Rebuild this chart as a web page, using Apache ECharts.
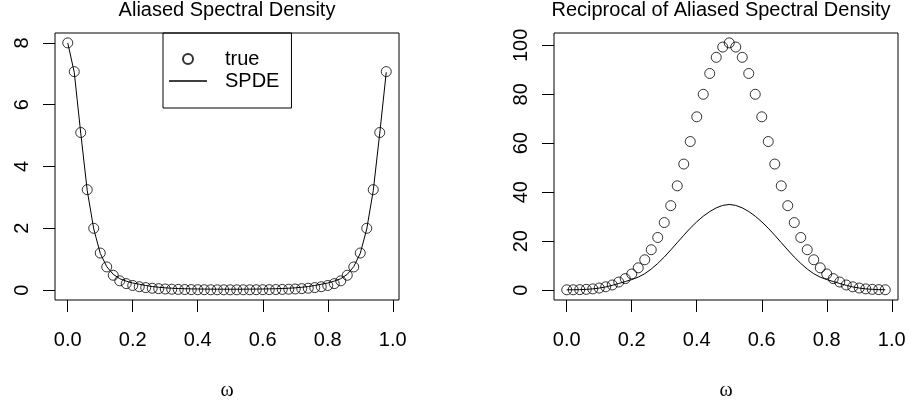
<!DOCTYPE html>
<html>
<head>
<meta charset="utf-8">
<script src="https://cdn.jsdelivr.net/npm/echarts@6/dist/echarts.min.js"></script>
<style>
  html, body { margin: 0; padding: 0; background: #fff; }
  #chart { width: 909px; height: 406px; }
</style>
</head>
<body>
<div id="chart"></div>
<script>
// frequencies on the lattice grid
const omega = [
  0.00, 0.02, 0.04, 0.06, 0.08, 0.10, 0.12, 0.14, 0.16, 0.18,
  0.20, 0.22, 0.24, 0.26, 0.28, 0.30, 0.32, 0.34, 0.36, 0.38,
  0.40, 0.42, 0.44, 0.46, 0.48, 0.50, 0.52, 0.54, 0.56, 0.58,
  0.60, 0.62, 0.64, 0.66, 0.68, 0.70, 0.72, 0.74, 0.76, 0.78,
  0.80, 0.82, 0.84, 0.86, 0.88, 0.90, 0.92, 0.94, 0.96, 0.98
]

// left panel: aliased spectral density
const trueDensity = [
  8.00, 7.07, 5.10, 3.25, 2.00, 1.20, 0.75, 0.48, 0.30, 0.21,
  0.15, 0.11, 0.081, 0.061, 0.047, 0.036, 0.029, 0.023, 0.019, 0.016,
  0.014, 0.0125, 0.0113, 0.0105, 0.0101, 0.0099, 0.0101, 0.0105, 0.0113, 0.0125,
  0.014, 0.016, 0.019, 0.023, 0.029, 0.036, 0.047, 0.061, 0.081, 0.11,
  0.15, 0.21, 0.30, 0.48, 0.75, 1.20, 2.00, 3.25, 5.10, 7.07
]
const spdeDensity = [
  8.00, 7.05, 5.08, 3.22, 1.98, 1.19, 0.76, 0.51, 0.37, 0.29,
  0.23, 0.19, 0.15, 0.116, 0.092, 0.074, 0.061, 0.052, 0.045, 0.040,
  0.036, 0.033, 0.031, 0.030, 0.029, 0.0286, 0.029, 0.030, 0.031, 0.033,
  0.036, 0.040, 0.045, 0.052, 0.061, 0.074, 0.092, 0.116, 0.15, 0.19,
  0.23, 0.29, 0.37, 0.51, 0.76, 1.19, 1.98, 3.22, 5.08, 7.05
]

// right panel: reciprocal of the aliased spectral density
const trueRecip = [
  0.125, 0.14, 0.20, 0.31, 0.50, 0.85, 1.35, 2.1, 3.3, 4.7,
  6.6, 9.1, 12.4, 16.5, 21.5, 27.6, 34.5, 42.6, 51.5, 60.7,
  70.8, 80.0, 88.5, 95.1, 99.3, 101.0, 99.3, 95.1, 88.5, 80.0,
  70.8, 60.7, 51.5, 42.6, 34.5, 27.6, 21.5, 16.5, 12.4, 9.1,
  6.6, 4.7, 3.3, 2.1, 1.35, 0.85, 0.50, 0.31, 0.20, 0.14
]
const spdeRecip = [
  0.125, 0.14, 0.20, 0.31, 0.50, 0.84, 1.3, 1.95, 2.7, 3.5,
  4.3, 5.3, 6.7, 8.6, 10.9, 13.5, 16.4, 19.4, 22.4, 25.3,
  27.9, 30.2, 32.1, 33.6, 34.6, 35.0, 34.6, 33.6, 32.1, 30.2,
  27.9, 25.3, 22.4, 19.4, 16.4, 13.5, 10.9, 8.6, 6.7, 5.3,
  4.3, 3.5, 2.7, 1.95, 1.3, 0.84, 0.50, 0.31, 0.20, 0.14
]

const xTicks = [0, 0.2, 0.4, 0.6, 0.8, 1.0]
const leftYTicks = [0, 2, 4, 6, 8]
const rightYTicks = [0, 20, 40, 60, 80, 100]

const FONT = 'Liberation Sans, Arial, Helvetica, sans-serif'

const pairs = (ys) => omega.map((x, i) => [x, ys[i]])

const xAxisOf = (gridIndex) => ({
  type: 'value',
  gridIndex,
  min: -0.0392,
  max: 1.0192,
  name: 'ω',
  nameLocation: 'middle',
  nameGap: 81,
  nameTextStyle: { fontFamily: 'Liberation Serif, serif', fontSize: 20, color: '#000' },
  splitLine: { show: false },
  axisLine: { show: false, onZero: false },
  axisTick: { show: true, length: 12, lineStyle: { color: '#000' }, customValues: xTicks },
  axisLabel: {
    margin: 30, fontSize: 20, fontFamily: FONT, color: '#000',
    customValues: xTicks,
    formatter: (v) => v.toFixed(1)
  }
})

const yAxisOf = (gridIndex, min, max, ticks) => ({
  type: 'value',
  gridIndex,
  min,
  max,
  splitLine: { show: false },
  axisLine: { show: false, onZero: false },
  axisTick: { show: true, length: 12, lineStyle: { color: '#000' }, customValues: ticks },
  axisLabel: {
    rotate: 90, margin: 23, fontSize: 20, fontFamily: FONT, color: '#000',
    customValues: ticks
  }
})

const pointSeries = (name, idx, ys) => ({
  name,
  type: 'scatter',
  xAxisIndex: idx,
  yAxisIndex: idx,
  symbol: 'circle',
  symbolSize: 10,
  itemStyle: { color: 'rgba(0,0,0,0)', borderColor: '#000', borderWidth: 1 },
  data: pairs(ys)
})

const lineSeries = (name, idx, ys) => ({
  name,
  type: 'line',
  xAxisIndex: idx,
  yAxisIndex: idx,
  symbol: 'none',
  lineStyle: { color: '#000', width: 1 },
  itemStyle: { color: '#000' },
  data: pairs(ys)
})

const chart = echarts.init(document.getElementById('chart'))
chart.setOption({
  animation: false,
  backgroundColor: '#fff',
  title: [
    {
      text: 'Aliased Spectral Density',
      left: 227, top: 0, textAlign: 'center', padding: 0,
      textStyle: { fontFamily: FONT, fontSize: 20, fontWeight: 'normal', color: '#000' }
    },
    {
      text: 'Reciprocal of Aliased Spectral Density',
      left: 721, top: 0, textAlign: 'center', padding: 0,
      textStyle: { fontFamily: FONT, fontSize: 20, fontWeight: 'normal', color: '#000' }
    }
  ],
  legend: {
    data: [
      { name: 'true' },
      { name: 'SPDE', icon: 'path://M0,0L38,0L38,1.3L0,1.3Z' }
    ],
    orient: 'vertical',
    left: 163,
    top: 33,
    padding: [16, 12, 17, 6],
    itemWidth: 38,
    itemHeight: 10,
    itemGap: 2,
    selectedMode: false,
    borderColor: '#000',
    borderWidth: 1,
    textStyle: { fontFamily: FONT, fontSize: 20, color: '#000', padding: [0, 0, 0, 13] }
  },
  grid: [
    { left: 55, top: 33, width: 344, height: 270, show: true, borderColor: '#000', borderWidth: 1, backgroundColor: 'transparent' },
    { left: 554, top: 33, width: 344, height: 270, show: true, borderColor: '#000', borderWidth: 1, backgroundColor: 'transparent' }
  ],
  xAxis: [xAxisOf(0), xAxisOf(1)],
  yAxis: [
    yAxisOf(0, -0.32, 8.32, leftYTicks),
    yAxisOf(1, -4.04, 105.04, rightYTicks)
  ],
  series: [
    pointSeries('true', 0, trueDensity),
    lineSeries('SPDE', 0, spdeDensity),
    pointSeries('true', 1, trueRecip),
    lineSeries('SPDE', 1, spdeRecip)
  ]
})
</script>
</body>
</html>
